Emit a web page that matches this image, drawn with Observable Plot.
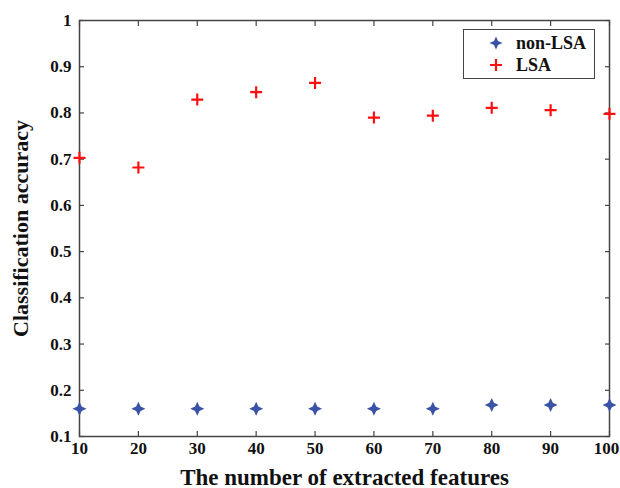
<!DOCTYPE html>
<html>
<head>
<meta charset="utf-8">
<script src="https://cdn.jsdelivr.net/npm/d3@7"></script>
<script src="https://cdn.jsdelivr.net/npm/@observablehq/plot@0.6"></script>
<style>
  html, body { margin: 0; padding: 0; background: #fff; }
  #wrap { position: relative; width: 620px; height: 488px; overflow: hidden; }
  #legend { position: absolute; left: 463px; top: 29px; width: 130px; height: 48px;
    border: 1.5px solid #444; background: #fff; font-family: "Liberation Serif", serif;
    font-weight: bold; font-size: 18px; color: #111; }
  .row { position: absolute; left: 0; height: 22px; display: flex; align-items: center; }
  .row svg { margin-left: 25px; margin-right: 13px; }
</style>
</head>
<body>
<div id="wrap"></div>
<script>
const features = [10, 20, 30, 40, 50, 60, 70, 80, 90, 100];
const nonLSA = [0.160, 0.160, 0.160, 0.160, 0.160, 0.160, 0.160, 0.168, 0.168, 0.168];
const LSA = [0.703, 0.682, 0.829, 0.845, 0.865, 0.790, 0.794, 0.811, 0.806, 0.798];
const seriesNames = ["non-LSA", "LSA"];
const xTicks = [10, 20, 30, 40, 50, 60, 70, 80, 90, 100];
const yTicks = [0.1, 0.2, 0.3, 0.4, 0.5, 0.6, 0.7, 0.8, 0.9, 1];
const yTickLabels = ["0.1", "0.2", "0.3", "0.4", "0.5", "0.6", "0.7", "0.8", "0.9", "1"];

const blue = "#3a53a6";
const red = "#ff1010";
const font = "Liberation Serif, Times New Roman, serif";

const star4 = {
  draw(context, size) {
    const R = Math.sqrt(size / Math.PI);
    const k = R * 0.32;
    context.moveTo(0, -R);
    context.lineTo(k, -k);
    context.lineTo(R, 0);
    context.lineTo(k, k);
    context.lineTo(0, R);
    context.lineTo(-k, k);
    context.lineTo(-R, 0);
    context.lineTo(-k, -k);
    context.closePath();
  }
};
const plusSym = {
  draw(context, size) {
    const R = Math.sqrt(size / Math.PI);
    context.moveTo(-R, 0);
    context.lineTo(R, 0);
    context.moveTo(0, -R);
    context.lineTo(0, R);
  }
};

const dataNon = features.map((f, i) => ({x: f, y: nonLSA[i]}));
const dataLSA = features.map((f, i) => ({x: f, y: LSA[i]}));

const tickStyle = {stroke: "#444", strokeWidth: 1.2};
const labelStyle = {fontSize: 17, fontWeight: "bold", fontFamily: font, fill: "#111"};

const chart = Plot.plot({
  width: 620,
  height: 488,
  marginLeft: 79,
  marginRight: 11,
  marginTop: 20,
  marginBottom: 52,
  style: {fontFamily: font, background: "#fff", overflow: "visible"},
  x: {domain: [10, 100]},
  y: {domain: [0.1, 1]},
  marks: [
    Plot.axisX(xTicks, {anchor: "bottom", tickSize: -5, text: null, label: null, ...tickStyle}),
    Plot.axisX(xTicks, {anchor: "top", tickSize: -5, text: null, label: null, ...tickStyle}),
    Plot.axisY(yTicks, {anchor: "left", tickSize: -5, text: null, label: null, ...tickStyle}),
    Plot.axisY(yTicks, {anchor: "right", tickSize: -5, text: null, label: null, ...tickStyle}),
    Plot.axisX(xTicks, {anchor: "bottom", tickSize: 0, tickPadding: 5, ...labelStyle,
      label: "The number of extracted features", labelAnchor: "center", labelArrow: "none", labelOffset: 48}),
    Plot.axisY(yTicks, {anchor: "left", tickSize: 0, tickPadding: 8, ...labelStyle,
      tickFormat: (d, i) => yTickLabels[i],
      label: "Classification accuracy", labelAnchor: "center", labelArrow: "none", labelOffset: 67}),
    Plot.frame({stroke: "#444", strokeWidth: 1.5}),
    Plot.dot(dataNon, {x: "x", y: "y", symbol: star4, r: 7, fill: blue, stroke: "none"}),
    Plot.dot(dataLSA, {x: "x", y: "y", symbol: plusSym, r: 6, stroke: red, strokeWidth: 2.2, fill: "none"})
  ]
});

chart.querySelectorAll('[aria-label="x-axis label"]').forEach(el => el.setAttribute("font-size", 23));
chart.querySelectorAll('[aria-label="y-axis label"]').forEach(el => el.setAttribute("font-size", 22));
// nudge the edge x tick labels so they stay inside the picture, as in the reference
const xTickTexts = chart.querySelectorAll('[aria-label="x-axis tick label"] text');
if (xTickTexts.length) {
  xTickTexts[0].setAttribute("dx", 3);
  xTickTexts[xTickTexts.length - 1].setAttribute("dx", -3);
}

const wrap = document.getElementById("wrap");
wrap.appendChild(chart);

const legend = document.createElement("div");
legend.id = "legend";
const symbols = [
  `<svg width="14" height="14" viewBox="-7 -7 14 14"><path d="M0,-6.5L2,-2L6.5,0L2,2L0,6.5L-2,2L-6.5,0L-2,-2Z" fill="${blue}"/></svg>`,
  `<svg width="14" height="14" viewBox="-7 -7 14 14"><path d="M-6,0H6M0,-6V6" stroke="${red}" stroke-width="2.2"/></svg>`
];
seriesNames.forEach((name, i) => {
  const row = document.createElement("div");
  row.className = "row";
  row.style.top = (2 + i * 22) + "px";
  row.innerHTML = symbols[i] + `<span>${name}</span>`;
  legend.appendChild(row);
});
wrap.appendChild(legend);
</script>
</body>
</html>
